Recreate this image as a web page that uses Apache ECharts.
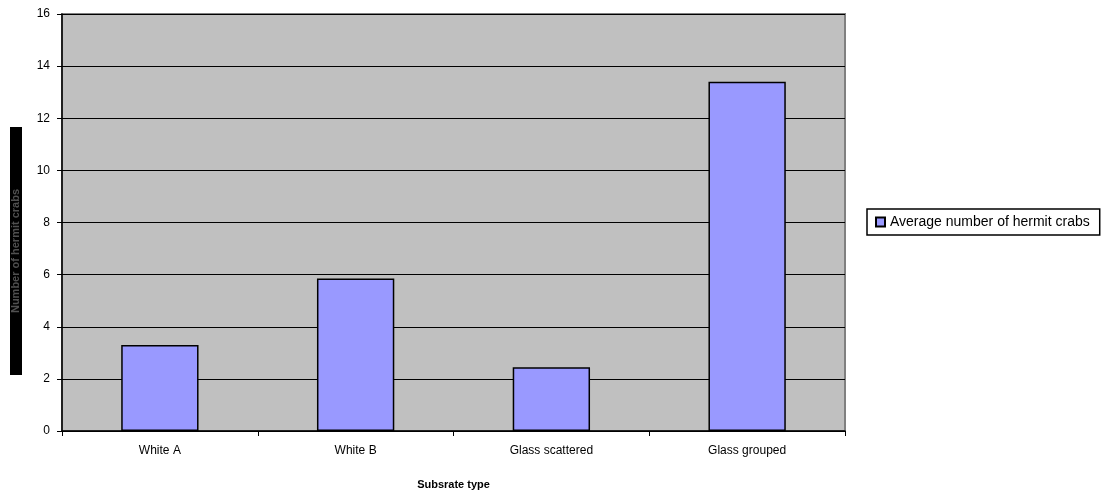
<!DOCTYPE html>
<html>
<head>
<meta charset="utf-8">
<script src="https://cdn.jsdelivr.net/npm/echarts@6/dist/echarts.min.js"></script>
<style>
html,body{margin:0;padding:0;background:#fff;}
#chart{width:1109px;height:495px;}
</style>
</head>
<body>
<div id="chart"></div>
<script>
const categories = ['White A', 'White B', 'Glass scattered', 'Glass grouped'];
const crabValues = [3.3, 5.85, 2.45, 13.4];
const seriesName = 'Average number of hermit crabs';
const xAxisTitle = 'Subsrate type';
const yAxisTitle = 'Number of hermit crabs';

const FONT = 'Liberation Sans, Arial, sans-serif';
const chart = echarts.init(document.getElementById('chart'));
chart.setOption({
  animation: false,
  textStyle: { fontFamily: FONT },
  grid: {
    left: 62, right: 264, top: 14, bottom: 64,
    show: true, backgroundColor: '#C0C0C0', borderColor: '#808080', borderWidth: 2
  },
  legend: {
    show: true,
    left: 867, top: 209,
    orient: 'vertical',
    backgroundColor: '#fff', borderColor: '#000', borderWidth: 1.5,
    padding: [6, 10, 6, 8],
    itemWidth: 9, itemHeight: 9, itemGap: 4,
    icon: 'rect',
    textStyle: { fontSize: 14, color: '#000', fontFamily: FONT },
    data: [seriesName]
  },
  graphic: [{
    type: 'text',
    x: 16, y: 251,
    rotation: Math.PI / 2,
    silent: true,
    style: {
      text: yAxisTitle,
      fontSize: 11, fontWeight: 'bold', fontFamily: FONT,
      fill: '#505050',
      backgroundColor: '#000',
      padding: [1, 62, 0, 62],
      align: 'center', verticalAlign: 'middle'
    }
  }],
  xAxis: {
    type: 'category',
    data: categories,
    name: xAxisTitle,
    nameLocation: 'middle',
    nameGap: 48,
    nameTextStyle: { fontSize: 11, fontWeight: 'bold', color: '#000' },
    axisLine: { lineStyle: { color: '#000', width: 1.5 } },
    axisTick: { show: true, length: 5, lineStyle: { color: '#000' } },
    axisLabel: { fontSize: 12, color: '#000', margin: 14 }
  },
  yAxis: {
    type: 'value',
    min: 0, max: 16, interval: 2,
    axisLine: { show: true, lineStyle: { color: '#000', width: 1.5 } },
    axisTick: { show: true, length: 5, lineStyle: { color: '#000' } },
    axisLabel: { fontSize: 12, color: '#000', margin: 12 },
    splitLine: { show: true, lineStyle: { color: '#000', width: 1.2 } }
  },
  series: [{
    name: seriesName,
    type: 'bar',
    data: crabValues,
    barWidth: '39.5%',
    itemStyle: { color: '#9999FF', borderColor: '#000', borderWidth: 1.5 }
  }]
});
</script>
</body>
</html>
